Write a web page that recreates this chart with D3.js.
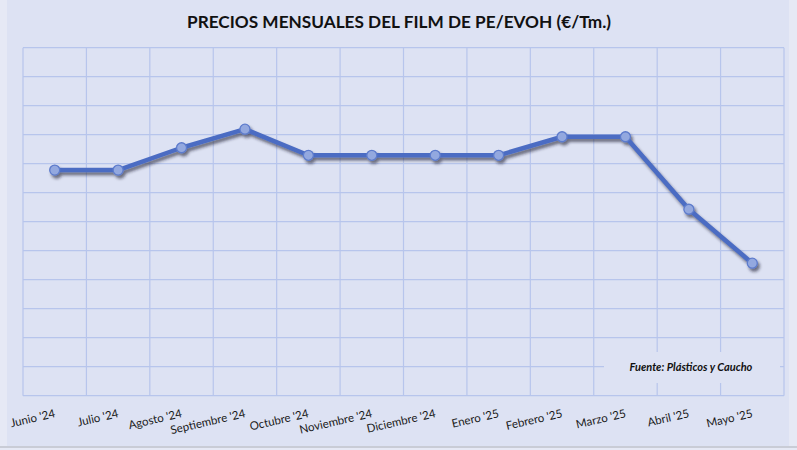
<!DOCTYPE html>
<html>
<head>
<meta charset="utf-8">
<script src="https://cdn.jsdelivr.net/npm/d3@7"></script>
<style>
  html, body { margin: 0; padding: 0; background: #e6e9f5; }
  svg { display: block; }
</style>
</head>
<body>
<div id="chart"></div>
<script>

// meses del eje x
var months = ["Junio '24", "Julio '24", "Agosto '24", "Septiembre '24", "Octubre '24", "Noviembre '24",
              "Diciembre '24", "Enero '25", "Febrero '25", "Marzo '25", "Abril '25", "Mayo '25"];

// precio relativo (en unidades de rejilla, el original no muestra eje y)
var prices = [7.78, 7.78, 8.55, 9.19, 8.29, 8.29, 8.29, 8.29, 8.93, 8.93, 6.43, 4.57];

var yDomain = [0, 12],
    yGridCount = 12;

var title = "PRECIOS MENSUALES DEL FILM DE PE/EVOH (€/Tm.)",
    source = "Fuente: Plásticos y Caucho";

var width = 797,
    height = 450,
    margin = {top: 47.7, right: 13, bottom: 54.3, left: 23};

var svg = d3.select("#chart").append("svg")
    .attr("width", width)
    .attr("height", height);

var defs = svg.append("defs");
var shadow = defs.append("filter")
    .attr("id", "shadow")
    .attr("x", "-10%").attr("y", "-10%")
    .attr("width", "120%").attr("height", "140%");
shadow.append("feDropShadow")
    .attr("dx", 2).attr("dy", 3)
    .attr("stdDeviation", 1.8)
    .attr("flood-color", "#1c2233")
    .attr("flood-opacity", 0.6);

// fondo del grafico
svg.append("rect")
    .attr("x", 7).attr("y", 0)
    .attr("width", 782).attr("height", 446)
    .attr("fill", "#dde2f3");

var x = d3.scaleBand()
    .domain(months)
    .range([margin.left, width - margin.right]);

var y = d3.scaleLinear()
    .domain(yDomain)
    .range([height - margin.bottom, margin.top]);

var grid = svg.append("g")
    .attr("stroke", "#b7c5ec")
    .attr("stroke-width", 1.2);

grid.selectAll(".h")
    .data(y.ticks(yGridCount))
    .enter()
    .append("line")
    .attr("x1", margin.left).attr("x2", width - margin.right)
    .attr("y1", function(d) { return y(d); })
    .attr("y2", function(d) { return y(d); });

grid.selectAll(".v")
    .data(months.concat(["end"]))
    .enter()
    .append("line")
    .attr("x1", function(d, i) { return i < months.length ? x(d) : x.range()[1]; })
    .attr("x2", function(d, i) { return i < months.length ? x(d) : x.range()[1]; })
    .attr("y1", margin.top).attr("y2", height - margin.bottom);

// titulo
svg.append("text")
    .attr("x", 399)
    .attr("y", 28)
    .attr("text-anchor", "middle")
    .attr("font-family", "Lato, 'Open Sans', sans-serif")
    .attr("font-weight", "bold")
    .attr("font-size", 17.5)
    .attr("fill", "#111")
    .attr("textLength", 424)
    .attr("lengthAdjust", "spacingAndGlyphs")
    .text(title);

// etiquetas del eje x
svg.append("g").selectAll("text")
    .data(months)
    .enter()
    .append("text")
    .attr("transform", function(d) {
        return "translate(" + (x(d) + x.bandwidth() / 2 + 1) + "," + 417 + ") rotate(-13)";
    })
    .attr("text-anchor", "end")
    .attr("font-family", "Lato, 'Open Sans', sans-serif")
    .attr("font-size", 11.5)
    .attr("fill", "#1a1a1a")
    .text(function(d) { return d; });

// fuente, con recuadro que tapa la rejilla
svg.append("rect")
    .attr("x", 604).attr("y", 352)
    .attr("width", 176).attr("height", 31)
    .attr("fill", "#dde2f3");

svg.append("text")
    .attr("x", 691)
    .attr("y", 371)
    .attr("text-anchor", "middle")
    .attr("font-family", "Lato, 'Open Sans', sans-serif")
    .attr("font-weight", "bold")
    .attr("font-style", "italic")
    .attr("font-size", 11)
    .attr("fill", "#111")
    .text(source);

// linea de precios
var line = d3.line()
    .x(function(d, i) { return x(months[i]) + x.bandwidth() / 2; })
    .y(function(d) { return y(d); });

var series = svg.append("g").attr("filter", "url(#shadow)");

series.append("path")
    .datum(prices)
    .attr("d", line)
    .attr("fill", "none")
    .attr("stroke", "#4b6cc3")
    .attr("stroke-width", 4.5)
    .attr("stroke-linejoin", "round");

series.selectAll("circle")
    .data(prices)
    .enter()
    .append("circle")
    .attr("cx", function(d, i) { return x(months[i]) + x.bandwidth() / 2; })
    .attr("cy", function(d) { return y(d); })
    .attr("r", 5)
    .attr("fill", "#93a8df")
    .attr("stroke", "#5d7bcc")
    .attr("stroke-width", 1.3);

// borde inferior gris
svg.append("line")
    .attr("x1", 0).attr("x2", width)
    .attr("y1", 447).attr("y2", 447)
    .attr("stroke", "#c9ccd6")
    .attr("stroke-width", 2);

</script>
</body>
</html>
